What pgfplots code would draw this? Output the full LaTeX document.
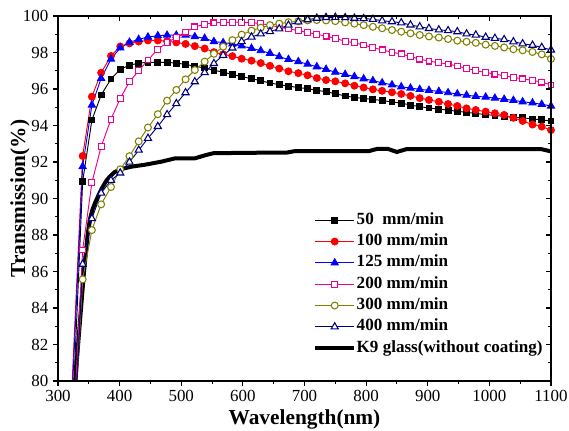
\documentclass[border=0pt]{standalone}
\usepackage{fontspec}
\setmainfont{Liberation Serif}
\usepackage{pgfplots}
\usepackage{pgfplotstable}
\pgfplotsset{compat=1.18}
\definecolor{olivec}{RGB}{128,128,0}
\definecolor{navyc}{RGB}{0,0,128}

\pgfplotstableread{
x a b c d e f
340 90.93 92.33 91.75 87.18 85.57 86.4
355 94.3 95.58 95.12 90.87 88.27 88.9
370 95.67 96.89 96.58 92.84 89.68 90.3
386 96.55 97.81 97.64 94.34 90.63 91.0
401 97.08 98.33 98.26 95.49 91.6 91.4
416 97.3 98.5 98.56 96.4 92.32 92.0
431 97.42 98.6 98.72 97.0 93.13 92.65
446 97.46 98.66 98.85 97.59 93.89 93.3
462 97.46 98.66 98.92 98.18 94.62 93.95
477 97.46 98.62 98.95 98.54 95.36 94.6
492 97.42 98.55 98.95 98.83 95.95 95.2
507 97.35 98.47 98.96 99.12 96.53 95.8
522 97.25 98.35 98.87 99.4 97.04 96.4
538 97.15 98.22 98.78 99.55 97.5 96.9
553 97.03 98.02 98.6 99.62 97.93 97.4
568 96.92 97.9 98.54 99.65 98.32 97.85
583 96.8 97.8 98.47 99.66 98.68 98.25
598 96.68 97.66 98.36 99.66 98.98 98.6
614 96.57 97.55 98.23 99.64 99.2 98.85
629 96.45 97.42 98.1 99.58 99.36 99.02
644 96.33 97.27 97.96 99.5 99.5 99.15
659 96.24 97.12 97.77 99.38 99.58 99.3
674 96.16 96.97 97.62 99.3 99.66 99.5
690 96.08 96.87 97.5 99.2 99.71 99.68
705 96.02 96.75 97.36 99.1 99.76 99.8
720 95.93 96.6 97.22 99.0 99.78 99.88
735 95.85 96.49 97.08 98.9 99.76 99.92
750 95.74 96.42 96.92 98.77 99.72 99.93
766 95.62 96.31 96.8 98.62 99.65 99.91
781 95.54 96.18 96.68 98.53 99.58 99.88
796 95.48 96.08 96.56 98.41 99.5 99.86
811 95.43 95.98 96.46 98.27 99.41 99.82
826 95.37 95.9 96.34 98.14 99.33 99.74
842 95.29 95.82 96.23 98.02 99.23 99.69
857 95.23 95.73 96.12 97.92 99.14 99.63
872 95.12 95.62 96.05 97.78 99.05 99.51
887 95.03 95.5 95.98 97.64 98.96 99.41
902 94.96 95.4 95.93 97.53 98.88 99.32
918 94.9 95.3 95.87 97.44 98.82 99.24
933 94.84 95.18 95.8 97.37 98.74 99.2
948 94.78 95.07 95.73 97.26 98.65 99.14
963 94.72 94.94 95.66 97.13 98.59 99.02
978 94.66 94.85 95.6 97.01 98.53 98.96
994 94.6 94.76 95.56 96.9 98.43 98.84
1009 94.55 94.67 95.5 96.82 98.36 98.78
1024 94.5 94.58 95.44 96.72 98.28 98.71
1039 94.45 94.42 95.38 96.64 98.18 98.59
1054 94.42 94.25 95.3 96.55 98.12 98.48
1070 94.36 94.05 95.24 96.48 98.03 98.4
1085 94.31 93.94 95.16 96.38 97.9 98.28
1100 94.25 93.75 95.07 96.22 97.65 98.14
}\data

\begin{document}
\begin{tikzpicture}
\pgfplotsset{
  common/.style={
    scale only axis, width=369.75pt, height=273.75pt,
    at={(0pt,0pt)}, anchor=south west,
    xmin=300, xmax=1100, ymin=80, ymax=100,
    xtick={300,400,...,1100}, minor xtick={350,450,...,1050},
    ytick={80,82,...,100}, minor ytick={81,83,...,99},
    major tick length=3.75pt, minor tick length=2.25pt,
    every tick/.style={black, line width=0.8pt},
    axis line style={line width=1.1pt},
  }
}
\begin{axis}[common,
    xtick pos=left, ytick pos=left, tick align=outside,
    /pgf/number format/assume math mode=true,
    /pgf/number format/1000 sep={},
    tick label style={font=\fontsize{12.7}{14}\selectfont},
    xlabel={Wavelength(nm)}, ylabel={Transmission(\%)},
    label style={font=\fontsize{16}{18}\selectfont\bfseries},
    xlabel style={yshift=1pt},
    ylabel style={yshift=-12pt},
    legend style={at={(axis cs:714,89.3)}, anchor=north west, draw=none, fill=none,
      font=\fontsize{12.8}{15}\selectfont\bfseries, row sep=3pt, inner sep=0pt,
      nodes={inner sep=0.5pt, text height=9pt, text depth=3pt}},
    legend cell align=left,
    legend image code/.code={\draw[mark repeat=2,mark phase=2] plot coordinates {(0pt,0pt) (14.5pt,0pt) (29pt,0pt)};},
  ]
  % K9 glass (drawn first, legend added at end)
  \addplot[black, line width=3pt, no markers, forget plot] coordinates {
    (322,77.4) (328,80.0) (335,83.0) (342,85.9) (348,88.0) (352,88.9) (356,89.4)
    (360,89.75) (366,90.2) (371,90.55) (378,90.95) (384,91.2) (392,91.45) (401,91.6)
    (420,91.75) (441,91.85) (468,92.02) (490,92.2) (522,92.2) (540,92.38) (552,92.48)
    (596,92.5) (672,92.52) (685,92.6) (805,92.6) (818,92.72) (835,92.72) (850,92.55)
    (865,92.7) (1085,92.7) (1100,92.58)};
  % steep edges
  \addplot[black, line width=0.7pt, forget plot] coordinates {(320,75.3) (340,90.93)};
  \addplot[red, line width=0.7pt, forget plot] coordinates {(320,77.8) (340,92.33)};
  \addplot[blue, line width=0.7pt, forget plot] coordinates {(320,77.06) (340,91.75)};
  \addplot[magenta, line width=0.7pt, forget plot] coordinates {(320,74.1) (340,87.18)};
  \addplot[olivec, line width=0.7pt, forget plot] coordinates {(320,73.2) (340,85.57)};
  \addplot[navyc, line width=0.7pt, forget plot] coordinates {(320,72.2) (340,86.4)};

  \addplot[black, line width=0.7pt, mark=square*, mark size=2.2pt, mark options={solid}] table[x=x,y=a] {\data};
  \addlegendentry{50\ \ mm/min}
  \addplot[red, line width=0.7pt, mark=*, mark size=2.6pt] table[x=x,y=b] {\data};
  \addlegendentry{100 mm/min}
  \addplot[blue, line width=0.7pt, mark=triangle*, mark size=3.1pt] table[x=x,y=c] {\data};
  \addlegendentry{125 mm/min}
  \addplot[magenta, line width=0.7pt, mark=square*, mark size=2.2pt, mark options={fill=white, line width=0.8pt}] table[x=x,y=d] {\data};
  \addlegendentry{200 mm/min}
  \addplot[olivec, line width=0.7pt, mark=*, mark size=2.6pt, mark options={fill=white, line width=0.8pt}] table[x=x,y=e] {\data};
  \addlegendentry{300 mm/min}
  \addplot[navyc, line width=0.7pt, mark=triangle*, mark size=3.1pt, mark options={fill=white, line width=0.8pt}] table[x=x,y=f] {\data};
  \addlegendentry{400 mm/min}
  \addlegendimage{black, line width=3pt, no markers}
  \addlegendentry{K9 glass(without coating)}
\end{axis}
\begin{axis}[common,
    xtick pos=right, ytick pos=right, tick align=inside,
    xticklabels={}, yticklabels={},
  ]
\end{axis}
\pgfresetboundingbox
\path[use as bounding box] (-43.5pt,-36.75pt) rectangle (383.25pt,285.75pt);
\end{tikzpicture}
\end{document}
